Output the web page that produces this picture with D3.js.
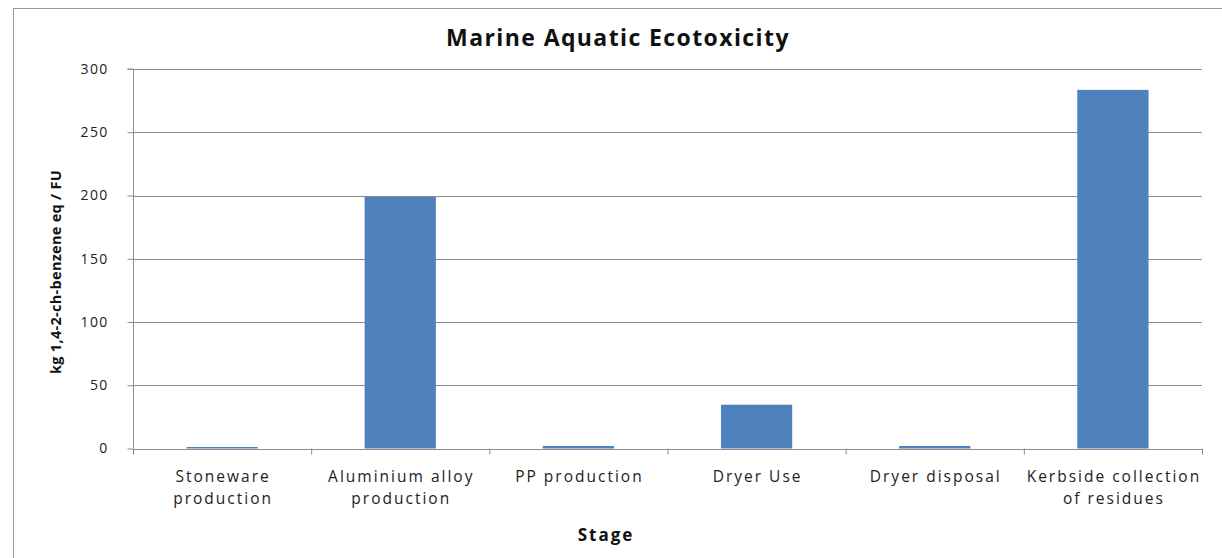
<!DOCTYPE html>
<html>
<head>
<meta charset="utf-8">
<script src="https://cdn.jsdelivr.net/npm/d3@7"></script>
<style>
  html, body { margin: 0; padding: 0; background: #fff; }
  svg { display: block; font-family: "Open Sans", sans-serif; }
</style>
</head>
<body>
<svg id="chart" width="1222" height="558"></svg>
<script>
// Stages of the life cycle and their marine aquatic ecotoxicity contributions
const stages = [
  ["Stoneware", "production"],
  ["Aluminium alloy", "production"],
  ["PP production"],
  ["Dryer Use"],
  ["Dryer disposal"],
  ["Kerbside collection", "of residues"]
];
const values = [1.2, 199, 2, 34.6, 2, 283.5];
const yTicks = [0, 50, 100, 150, 200, 250, 300];

const svg = d3.select("#chart");
const x0 = 133, x1 = 1202, yTop = 69, yBot = 448.5;

// outer chart frame
svg.append("rect")
  .attr("x", 13.5).attr("y", 8.5)
  .attr("width", 1240).attr("height", 560)
  .attr("fill", "none").attr("stroke", "#9a9a9a").attr("stroke-width", 1);

const x = d3.scaleBand()
  .domain(d3.range(stages.length))
  .range([x0, x1])
  .paddingInner(0.6).paddingOuter(0.3);
const xb = d3.scaleBand().domain(d3.range(stages.length)).range([x0, x1]);

const y = d3.scaleLinear().domain([0, 300]).range([yBot, yTop]);

// horizontal gridlines
svg.append("g")
  .selectAll("line")
  .data(yTicks.filter(t => t > 0))
  .join("line")
  .attr("x1", x0).attr("x2", x1)
  .attr("y1", d => Math.round(y(d)) + 0.5).attr("y2", d => Math.round(y(d)) + 0.5)
  .attr("stroke", "#8c8c8c").attr("stroke-width", 1);

// bars
svg.append("g")
  .selectAll("rect")
  .data(values)
  .join("rect")
  .attr("x", (d, i) => x(i))
  .attr("width", x.bandwidth())
  .attr("y", d => y(d))
  .attr("height", d => yBot - y(d))
  .attr("fill", "#4f81bd");

// y axis
const yAxis = svg.append("g")
  .attr("transform", `translate(${x0 + 0.5},0)`)
  .call(d3.axisLeft(y).tickValues(yTicks).tickSize(6).tickPadding(19));
yAxis.select(".domain").attr("stroke", "#8c8c8c").attr("d", `M-6,${yTop}H0V${yBot}`);
yAxis.selectAll(".tick line").attr("stroke", "#8c8c8c");
yAxis.selectAll(".tick text")
  .attr("font-size", 14).attr("fill", "#222")
  .attr("letter-spacing", 1.3)
  .attr("font-family", "'Open Sans', sans-serif");

// x axis line with ticks at band boundaries
const xAxisG = svg.append("g");
xAxisG.append("line")
  .attr("x1", x0).attr("x2", x1)
  .attr("y1", Math.round(yBot) + 0.5).attr("y2", Math.round(yBot) + 0.5)
  .attr("stroke", "#8c8c8c");
xAxisG.selectAll("line.tk")
  .data(d3.range(stages.length + 1))
  .join("line")
  .attr("class", "tk")
  .attr("x1", i => (i < stages.length ? xb(i) : x1) + 0.5)
  .attr("x2", i => (i < stages.length ? xb(i) : x1) + 0.5)
  .attr("y1", yBot).attr("y2", yBot + 6)
  .attr("stroke", "#8c8c8c");

// category labels
const lab = svg.append("g")
  .selectAll("text")
  .data(stages)
  .join("text")
  .attr("x", (d, i) => xb(i) + xb.bandwidth() / 2 + 1)
  .attr("y", 482)
  .attr("text-anchor", "middle")
  .attr("font-size", 15.5).attr("letter-spacing", 2).attr("fill", "#222");
lab.selectAll("tspan")
  .data(d => d)
  .join("tspan")
  .attr("x", function () { return d3.select(this.parentNode).attr("x"); })
  .attr("dy", (d, i) => i === 0 ? 0 : 22)
  .text(d => d);

// title
svg.append("text")
  .attr("x", 618).attr("y", 46)
  .attr("text-anchor", "middle")
  .attr("font-size", 23).attr("font-weight", "bold").attr("letter-spacing", 1.4).attr("fill", "#111")
  .text("Marine Aquatic Ecotoxicity");

// axis titles
svg.append("text")
  .attr("x", 606).attr("y", 541)
  .attr("text-anchor", "middle")
  .attr("font-size", 17).attr("font-weight", "bold").attr("letter-spacing", 2).attr("fill", "#111")
  .text("Stage");

svg.append("text")
  .attr("transform", `translate(61,272) rotate(-90)`)
  .attr("text-anchor", "middle")
  .attr("font-size", 14.5).attr("font-weight", "bold").attr("letter-spacing", 0.3).attr("fill", "#111")
  .text("kg 1,4-2-ch-benzene eq / FU");
</script>
</body>
</html>
